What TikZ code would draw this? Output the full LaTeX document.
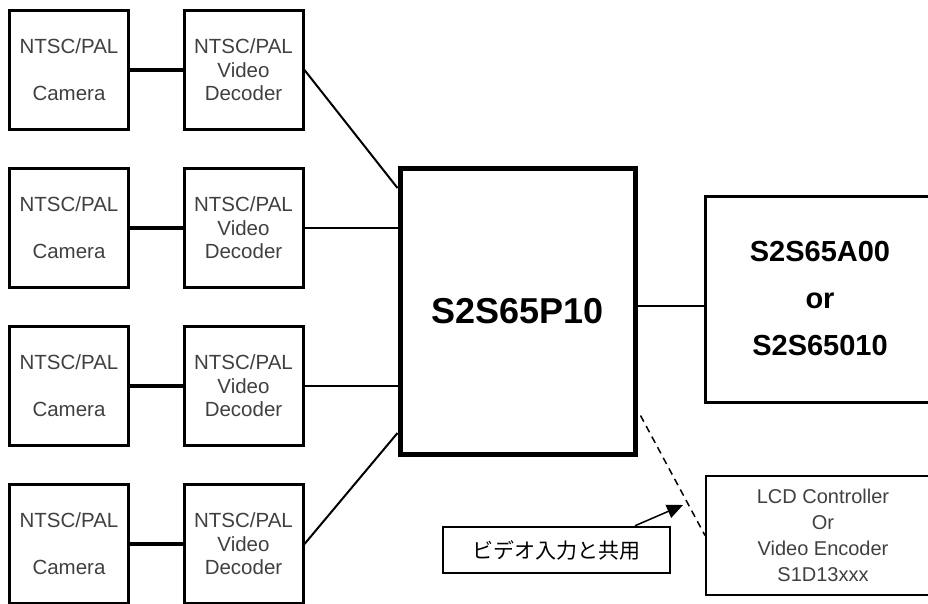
\documentclass[tikz,border=0pt]{standalone}
\usepackage{fontspec}
\setmainfont{Liberation Sans}
\newfontfamily\jpfont{Noto Sans CJK JP}
\usepackage{xcolor}
\usepackage{tikz}
\usetikzlibrary{arrows.meta, positioning, calc}
\definecolor{labelgray}{HTML}{404040}

\tikzset{
    unitbox/.style={rectangle, draw=black, line width=3pt, minimum width=119pt, minimum height=119pt, inner sep=0pt, align=center, text=labelgray, font=\fontsize{20.5}{23.5}\selectfont},
    chipbox/.style={rectangle, draw=black, inner sep=0pt, align=center},
    link/.style={line width=2pt}
}

\begin{document}
\begin{tikzpicture}[x=1pt, y=-1pt]
    % Page frame
    \useasboundingbox (0,0) rectangle (928,603);
    \clip (0,0) rectangle (928,603);

    % Camera and decoder rows
    \foreach \r/\y in {1/70, 2/228, 3/386, 4/544} {
        \node[unitbox] (cam\r) at (69,\y) {NTSC/PAL\\\mbox{}\\Camera};
        \node[unitbox] (dec\r) at (243.5,\y) {NTSC/PAL\\Video\\Decoder};
        \draw[line width=4pt] (cam\r.east) -- (dec\r.east -| dec\r.west);
    }

    % Main chip
    \node[chipbox, line width=5pt, minimum width=235pt, minimum height=286pt, font=\fontsize{36}{40}\selectfont\bfseries] (main) at (517.5,311) {S2S65P10};

    % Host chip (runs off the page)
    \node[chipbox, line width=3pt, minimum width=230pt, minimum height=206pt, font=\fontsize{29}{47}\selectfont\bfseries] (host) at (820,299) {S2S65A00\\or\\S2S65010};

    % LCD / encoder (runs off the page)
    \node[chipbox, line width=2pt, minimum width=234pt, minimum height=119pt, text=labelgray, font=\fontsize{20}{26}\selectfont] (lcd) at (823,535.5) {LCD Controller\\Or\\Video Encoder\\S1D13xxx};

    % Shared-input note
    \node[chipbox, line width=2.5pt, minimum width=227pt, minimum height=46pt, font=\jpfont\fontsize{21}{24}\selectfont] (note) at (556.5,550) {ビデオ入力と共用};
    \coordinate (tip) at (683,505);

    % Decoders to main chip
    \draw[link] (dec1.east) -- ([yshift=123pt]main.west);
    \draw[link] (dec2.east) -- (dec2.east -| main.west);
    \draw[link] (dec3.east) -- (dec3.east -| main.west);
    \draw[link] (dec4.east) -- ([yshift=-122pt]main.west);

    % Main chip to host
    \draw[link] ([yshift=5pt]main.east) -- ([yshift=5pt]main.east -| host.west);

    % Optional output
    \draw[line width=1.5pt, dash pattern=on 7pt off 5pt] ([xshift=3pt, yshift=41pt]main.south east) -- (lcd.west);
    \draw[line width=1.5pt, -{Triangle[length=16pt, width=14pt]}] ([xshift=78.5pt]note.north) -- (tip);
\end{tikzpicture}
\end{document}
